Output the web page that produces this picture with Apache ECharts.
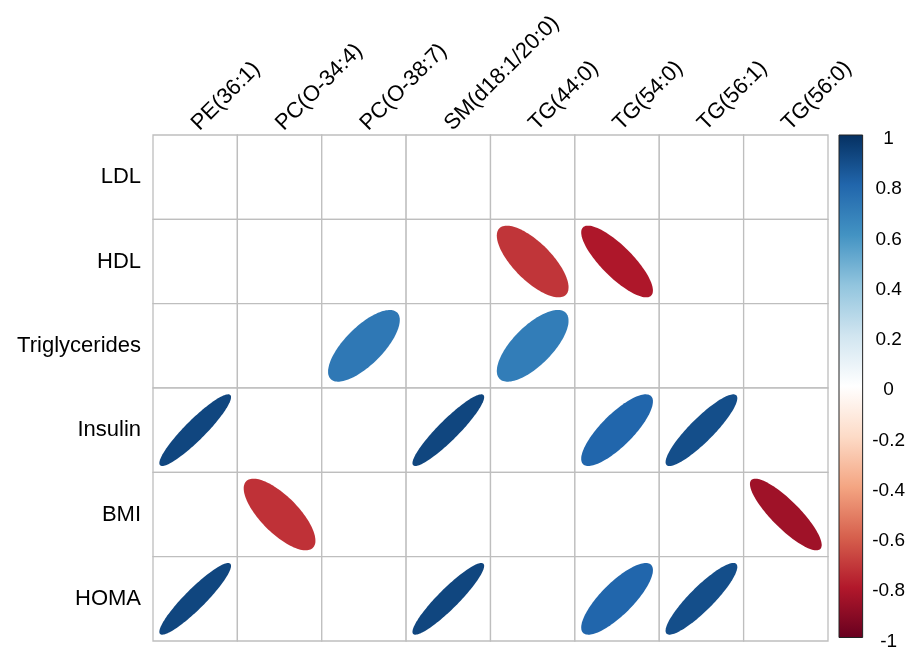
<!DOCTYPE html>
<html>
<head>
<meta charset="utf-8">
<script src="https://cdn.jsdelivr.net/npm/echarts@6/dist/echarts.min.js"></script>
<style>
  html, body { margin: 0; padding: 0; background: #fff; }
  #chart { width: 908px; height: 651px; }
</style>
</head>
<body>
<div id="chart"></div>
<script>
// Clinical traits (rows) versus lipid species (columns)
const rowNames = ['LDL', 'HDL', 'Triglycerides', 'Insulin', 'BMI', 'HOMA'];
const colNames = ['PE(36:1)', 'PC(O-34:4)', 'PC(O-38:7)', 'SM(d18:1/20:0)', 'TG(44:0)', 'TG(54:0)', 'TG(56:1)', 'TG(56:0)'];

// Correlation coefficients; null = cell left blank
const corLDL   = [null, null, null, null, null, null, null, null];
const corHDL   = [null, null, null, null, -0.72, -0.81, null, null];
const corTrig  = [null, null, 0.72, null, 0.70, null, null, null];
const corIns   = [0.92, null, null, 0.92, null, 0.80, 0.89, null];
const corBMI   = [null, -0.73, null, null, null, null, null, -0.85];
const corHOMA  = [0.92, null, null, 0.92, null, 0.80, 0.89, null];
const corRows = [corLDL, corHDL, corTrig, corIns, corBMI, corHOMA];

// Colour legend ticks
const legendMin = -1, legendMax = 1, legendStep = 0.2;

// Diverging red-white-blue palette from -1 to 1
const palette = ['#67001F', '#B2182B', '#D6604D', '#F4A582', '#FDDBC7', '#FFFFFF',
                 '#D1E5F0', '#92C5DE', '#4393C3', '#2166AC', '#053061'];

const ellipseData = [];
corRows.forEach((row, ri) => row.forEach((v, ci) => {
  if (v !== null) ellipseData.push([ci, ri, v]);
}));
const cellData = [];
rowNames.forEach((_, ri) => colNames.forEach((_, ci) => cellData.push([ci, ri])));

const chart = echarts.init(document.getElementById('chart'), null, { renderer: 'canvas' });
const FONT = '"Liberation Sans", Arial, sans-serif';

function renderCell(params, api) {
  const c = api.coord([api.value(0), api.value(1)]);
  const s = api.size([1, 1]);
  return {
    type: 'rect',
    shape: { x: c[0] - s[0] / 2, y: c[1] - s[1] / 2, width: s[0], height: s[1] },
    style: { fill: '#fff', stroke: '#BEBEBE', lineWidth: 1.3 }
  };
}

// Correlation ellipse inside a unit cell, scaled to 85% of the cell
function renderEllipse(params, api) {
  const c = api.coord([api.value(0), api.value(1)]);
  const s = api.size([1, 1]);
  const rho = api.value(2);
  const a = Math.acos(rho);
  const pts = [];
  const n = 120;
  for (let i = 0; i < n; i++) {
    const k = (2 * Math.PI * i) / n;
    const x = Math.cos(k + a / 2) / 2 * 0.85;
    const y = Math.cos(k - a / 2) / 2 * 0.85;
    pts.push([c[0] + x * s[0], c[1] - y * s[1]]);
  }
  return {
    type: 'polygon',
    shape: { points: pts },
    style: { fill: api.visual('color') }
  };
}

function renderLegendBar(params, api) {
  const p0 = api.coord([0, legendMax]);
  const p1 = api.coord([1, legendMin]);
  const stops = palette.slice().reverse().map((col, i) => ({ offset: i / (palette.length - 1), color: col }));
  return {
    type: 'rect',
    shape: { x: p0[0], y: p0[1], width: p1[0] - p0[0], height: p1[1] - p0[1] },
    style: {
      fill: new echarts.graphic.LinearGradient(0, 0, 0, 1, stops),
      stroke: '#222', lineWidth: 1
    }
  };
}

chart.setOption({
  backgroundColor: '#fff',
  animation: false,
  textStyle: { fontFamily: FONT },
  grid: [
    { left: 153, top: 135, width: 675, height: 506 },
    { left: 839, top: 135, width: 24, height: 506 }
  ],
  xAxis: [
    {
      gridIndex: 0, type: 'category', data: colNames, position: 'top',
      axisLine: { show: false }, axisTick: { show: false }, splitLine: { show: false },
      axisLabel: { rotate: -45, color: '#000', fontSize: 22, fontFamily: FONT, margin: 8, interval: 0 }
    },
    { gridIndex: 1, type: 'value', min: 0, max: 1, show: false }
  ],
  yAxis: [
    {
      gridIndex: 0, type: 'category', data: rowNames, inverse: true,
      axisLine: { show: false }, axisTick: { show: false }, splitLine: { show: false },
      axisLabel: { color: '#000', fontSize: 22, fontFamily: FONT, margin: 12, interval: 0 }
    },
    {
      gridIndex: 1, type: 'value', min: legendMin, max: legendMax, interval: legendStep,
      position: 'right',
      axisLine: { show: false },
      axisTick: { show: true, length: 5, lineStyle: { color: '#000', width: 1 } },
      splitLine: { show: false },
      axisLabel: {
        color: '#000', fontSize: 19, fontFamily: FONT, margin: 26, align: 'center',
        formatter: v => '{t|' + v + '}',
        rich: { t: { fontSize: 19, fontFamily: FONT, color: '#000', padding: [8, 0, 0, 0] } }
      }
    }
  ],
  visualMap: {
    show: false, type: 'continuous', seriesIndex: 1, dimension: 2,
    min: legendMin, max: legendMax, inRange: { color: palette }
  },
  series: [
    { type: 'custom', xAxisIndex: 0, yAxisIndex: 0, data: cellData, renderItem: renderCell, silent: true },
    { type: 'custom', xAxisIndex: 0, yAxisIndex: 0, data: ellipseData, renderItem: renderEllipse, z: 3 },
    { type: 'custom', xAxisIndex: 1, yAxisIndex: 1, data: [[0, 0]], renderItem: renderLegendBar, silent: true }
  ]
});
</script>
</body>
</html>
